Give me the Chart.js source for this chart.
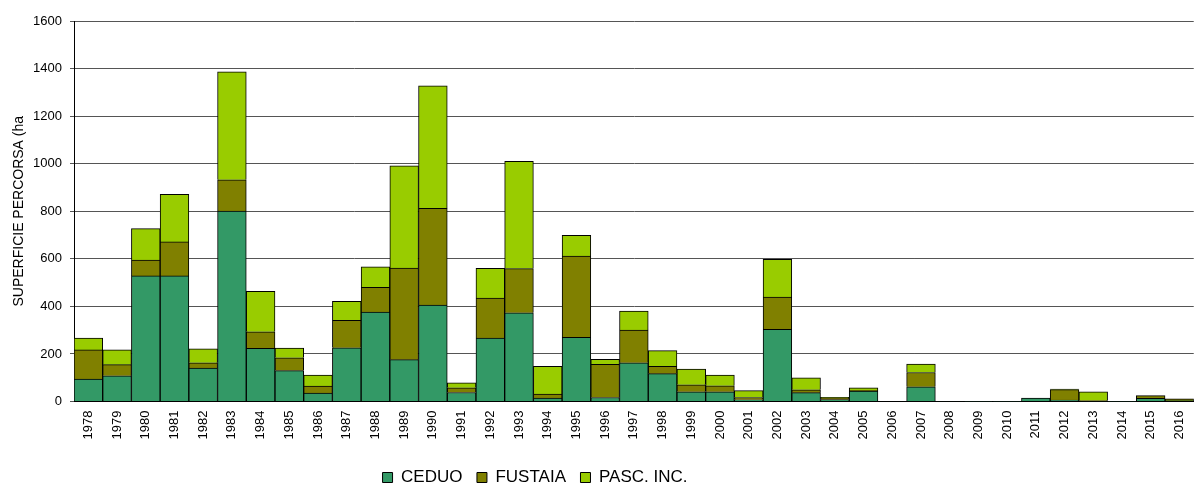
<!DOCTYPE html>
<html>
<head>
<meta charset="utf-8">
<title>Superficie percorsa</title>
<script src="https://cdn.jsdelivr.net/npm/chart.js@4.4.0/dist/chart.umd.min.js"></script>
<style>
html, body { margin: 0; padding: 0; background: #fff; overflow: hidden; }
#wrap { width: 1204px; height: 484px; }
</style>
</head>
<body>
<div id="wrap"><canvas id="chart" width="1204" height="484"></canvas></div>
<script>
var anni = ["1978", "1979", "1980", "1981", "1982", "1983", "1984", "1985", "1986", "1987",
            "1988", "1989", "1990", "1991", "1992", "1993", "1994", "1995", "1996", "1997",
            "1998", "1999", "2000", "2001", "2002", "2003", "2004", "2005", "2006", "2007",
            "2008", "2009", "2010", "2011", "2012", "2013", "2014", "2015", "2016"];
var ceduo   = [94, 108, 528, 528, 141, 801, 224, 130, 35, 226,
               376, 176, 405, 38, 267, 373, 14, 270, 17, 163,
               117, 41, 41, 7, 304, 37, 8, 44, 0, 62,
               2, 1, 1, 14, 6, 2, 1, 13, 3];
var fustaia = [123, 47, 67, 143, 22, 131, 69, 54, 30, 115,
               104, 385, 407, 20, 168, 186, 17, 341, 139, 137,
               31, 29, 25, 10, 135, 12, 8, 3, 0, 60,
               0, 0, 0, 0, 44, 2, 0, 12, 8];
var pascInc = [50, 62, 132, 200, 58, 454, 170, 41, 46, 80,
               86, 430, 515, 21, 125, 451, 117, 88, 21, 80,
               66, 66, 45, 29, 159, 51, 2, 11, 0, 35,
               0, 0, 0, 0, 2, 37, 0, 0, 0];
var yMax = 1600;
var yPasso = 200;

Chart.defaults.font.family = "'Liberation Sans', Arial, sans-serif";
Chart.defaults.color = "#000";

// legenda un po' piu' in basso e a sinistra del centro
var spostaLegenda = {
    id: "spostaLegenda",
    afterLayout: function (chart) {
        var lg = chart.legend;
        lg.right = lg.left + 1070;
        lg.top += 12;
        lg.bottom += 12;
    }
};

var ctx = document.getElementById("chart").getContext("2d");
var grafico = new Chart(ctx, {
    type: "bar",
    data: {
        labels: anni,
        datasets: [{
                label: "CEDUO",
                data: ceduo,
                backgroundColor: "#339966",
                borderColor: "#000",
                borderWidth: 1
            },
            {
                label: "FUSTAIA",
                data: fustaia,
                backgroundColor: "#808000",
                borderColor: "#000",
                borderWidth: 1
            },
            {
                label: "PASC. INC.",
                data: pascInc,
                backgroundColor: "#99CC00",
                borderColor: "#000",
                borderWidth: 1
            }
        ]
    },
    options: {
        responsive: false,
        animation: false,
        barPercentage: 1,
        categoryPercentage: 1,
        layout: {
            padding: { top: 21, right: 1, bottom: 0, left: 0 }
        },
        scales: {
            x: {
                stacked: true,
                grid: { display: false, drawTicks: false },
                border: { color: "#000", width: 1 },
                ticks: {
                    autoSkip: false,
                    maxRotation: 90,
                    minRotation: 90,
                    padding: 9,
                    font: { size: 13 }
                },
                afterFit: function (s) { s.height = 41; }
            },
            y: {
                stacked: true,
                min: 0,
                max: yMax,
                ticks: {
                    stepSize: yPasso,
                    padding: 8,
                    font: { size: 13 },
                    callback: function (v) { return String(v); }
                },
                grid: { color: "#555", lineWidth: 1, tickLength: 4 },
                border: { color: "#000", width: 1 },
                title: {
                    display: true,
                    text: "SUPERFICIE PERCORSA (ha",
                    font: { size: 14 },
                    padding: { top: 11, bottom: 0 }
                },
                afterFit: function (s) { s.width = 74; }
            }
        },
        plugins: {
            legend: {
                position: "bottom",
                labels: {
                    boxWidth: 10,
                    boxHeight: 10,
                    padding: 14.5,
                    font: { size: 17 }
                }
            },
            tooltip: { enabled: false }
        }
    },
    plugins: [spostaLegenda]
});
</script>
</body>
</html>
